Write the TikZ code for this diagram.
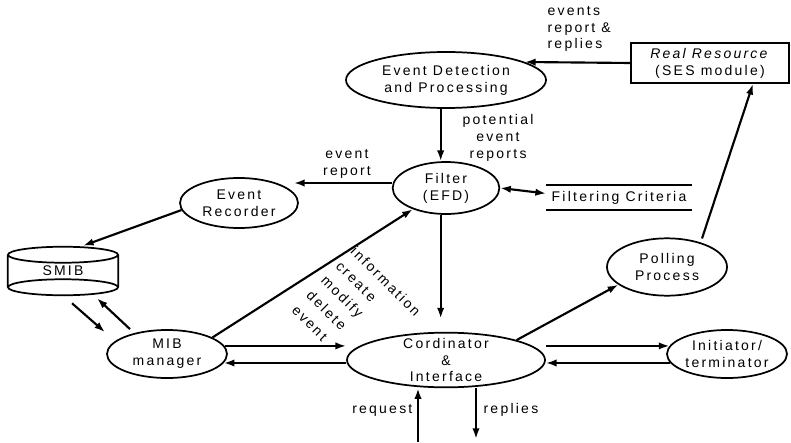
\documentclass[tikz,border=0pt]{standalone}
\usepackage{fontspec}
\setmainfont{Liberation Sans}[LetterSpace=16]
\usetikzlibrary{shapes.geometric, arrows.meta, calc}

\begin{document}
\begin{tikzpicture}[x=0.75pt, y=-0.75pt, >={Latex[length=8pt,width=5.5pt]},
    every node/.style={font=\fontsize{10.5}{12.6}\selectfont},
    proc/.style={draw, ellipse, line width=1.3pt, inner sep=0pt, align=center},
    lab/.style={align=center, inner sep=1pt},
    flow/.style={line width=1.6pt}]
    \useasboundingbox (0,0) rectangle (791,442);

    % processes and stores
    \node (detect) [proc, minimum width=150pt, minimum height=42pt] at (446,80) {Event Detection\\and Processing};
    \node (filter) [proc, minimum width=80pt, minimum height=39pt] at (446,188) {Filter\\(EFD)};
    \node (rec) [proc, minimum width=88.5pt, minimum height=37.5pt] at (239,203) {Event\\Recorder};
    \node (mib) [proc, minimum width=90pt, minimum height=36pt] at (167,354) {MIB\\manager};
    \node (cord) [proc, inner ysep=-4pt, minimum width=148.5pt, minimum height=41pt] at (446,360) {Cordinator\\\&\\Interface};
    \node (init) [proc, minimum width=90pt, minimum height=36pt] at (727,354) {Initiator/\\terminator};
    \node (poll) [proc, minimum width=90pt, minimum height=43pt] at (667,267) {Polling\\Process};
    \node (res) [draw, rectangle, line width=1.3pt, align=center, inner sep=0pt, minimum width=118pt, minimum height=30pt] at (710,63) {\textit{Real Resource}\\(SES module)};
    \node (crit) [inner sep=0pt, minimum width=109pt, minimum height=18.75pt] at (619,197.5) {Filtering Criteria};
    \node (smib) [inner sep=0pt, minimum width=82.5pt, minimum height=24pt] at (63,271) {SMIB};

    \draw [line width=1.3pt] (crit.north west) -- (crit.north east) (crit.south west) -- (crit.south east);
    \draw [line width=1.3pt] (smib.north) ellipse [x radius=41.25pt, y radius=6pt]
        (smib.south) ellipse [x radius=41.25pt, y radius=6pt]
        (smib.north west) -- (smib.south west) (smib.north east) -- (smib.south east);

    % labels
    \node (evrepl) [lab, align=left, anchor=west] at (546,29) {events\\report \&\\replies};
    \node (potrep) [lab] at (498,138) {potential\\event\\reports};
    \node (evrep) [lab] at (347,164) {event\\report};
    \node (ops) [lab, align=left, rotate=-45, anchor=north west] at (357,243) {information\\[3pt]create\\[3pt]modify\\[3pt]delete\\[3pt]event};
    \node (reqlab) [lab, anchor=east] at (414,410) {request};
    \node (replab) [lab, anchor=west] at (482,410) {replies};

    \coordinate (reqin) at (418,442);
    \coordinate (repout) at (476,439);

    % flows
    \draw [->, flow] (res.west) -- ($(detect.east)+(-22,-18)$);
    \draw [->, flow] ([xshift=-4pt]detect.south) -- ([xshift=-4pt]filter.north);
    \draw [->, flow] ($(filter.west)+(0,-5)$) -- ($(rec.east)+(-5,-20)$);
    \draw [<->, flow] (filter.east) -- ($(crit.west)+(0,-4)$);
    \draw [->, flow] (rec.187) -- ($(smib.north)+(20,-9)$);
    \draw [->, flow] ($(smib.south)+(9,16)$) -- ($(mib.north)+(-62,3)$);
    \draw [->, flow] ($(mib.north)+(-37,0)$) -- ($(smib.south)+(34,11)$);
    \draw [->, flow] (mib.20) -- (filter);
    \draw [->, flow, shorten >=10pt] ([xshift=-4pt]filter.south) -- ([xshift=-4pt]cord.north);
    \draw [->, flow] (mib.8) -- (mib.8 -| cord.west);
    \draw [->, flow] (cord.west |- mib.-9) -- (mib.-9);
    \draw [->, flow] (cord.east |- init.172) -- (init.172);
    \draw [->, flow] (init.189) -- (init.189 -| cord.east);
    \draw [->, flow] (cord.north east) -- (poll.200);
    \draw [->, flow] ($(poll.north)+(35,1)$) -- ($(res.south)+(43,0)$);
    \draw [->, flow] (reqin) -- (reqin |- cord.south);
    \draw [->, flow] (repout |- cord.south) -- (repout);
\end{tikzpicture}
\end{document}
